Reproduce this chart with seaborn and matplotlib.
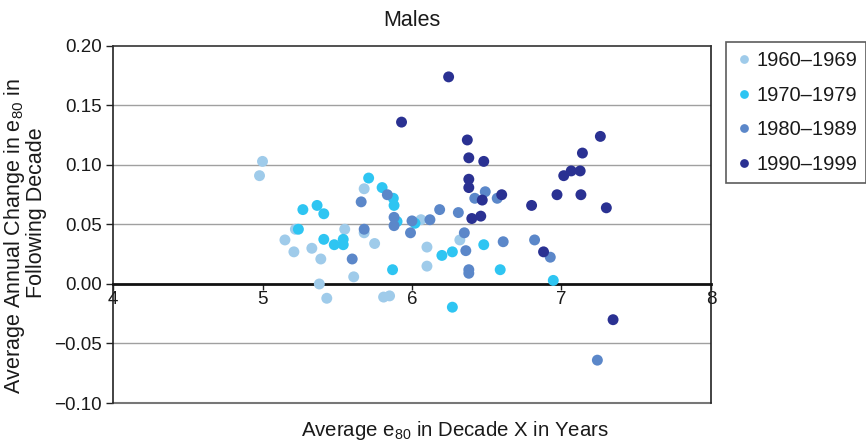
import matplotlib
matplotlib.use("Agg")
import matplotlib.pyplot as plt
import seaborn as sns
import pandas as pd
from matplotlib.ticker import FuncFormatter, MultipleLocator

decades = ["1960\u20131969", "1970\u20131979", "1980\u20131989", "1990\u20131999"]
colors = ["#9fcbea", "#2ec5f2", "#5b87c9", "#2a3192"]

x60 = [5.00, 4.98, 5.68, 5.22, 5.15, 5.21, 5.33, 5.39, 5.38, 5.43, 5.55, 5.68, 5.75, 5.61, 5.81, 5.85, 6.06, 6.10, 6.10, 6.32]
y60 = [0.103, 0.091, 0.080, 0.046, 0.037, 0.027, 0.030, 0.021, 0.000, -0.012, 0.046, 0.043, 0.034, 0.006, -0.011, -0.010, 0.054, 0.031, 0.015, 0.037]

x70 = [5.27, 5.365, 5.41, 5.24, 5.41, 5.48, 5.54, 5.54, 5.71, 5.80, 5.875, 5.88, 5.90, 5.87, 6.02, 6.20, 6.27, 6.48, 6.59, 6.945, 6.27]
y70 = [0.0625, 0.066, 0.059, 0.046, 0.0375, 0.033, 0.033, 0.0375, 0.089, 0.081, 0.072, 0.066, 0.0525, 0.012, 0.051, 0.024, 0.027, 0.033, 0.012, 0.003, -0.0195]

x80 = [5.66, 5.68, 5.60, 5.835, 5.88, 5.88, 6.00, 5.99, 6.12, 6.185, 6.31, 6.35, 6.36, 6.38, 6.38, 6.42, 6.49, 6.57, 6.61, 6.82, 6.925, 7.24]
y80 = [0.069, 0.046, 0.021, 0.075, 0.056, 0.049, 0.053, 0.043, 0.054, 0.0625, 0.060, 0.043, 0.028, 0.012, 0.009, 0.072, 0.0775, 0.072, 0.0355, 0.037, 0.0225, -0.064]

x90 = [5.93, 6.245, 6.37, 6.38, 6.48, 6.38, 6.38, 6.47, 6.60, 6.40, 6.46, 6.80, 6.88, 6.97, 7.015, 7.065, 7.125, 7.14, 7.13, 7.26, 7.30, 7.345]
y90 = [0.136, 0.174, 0.121, 0.106, 0.103, 0.088, 0.081, 0.0705, 0.075, 0.055, 0.057, 0.066, 0.027, 0.075, 0.091, 0.095, 0.095, 0.110, 0.075, 0.124, 0.064, -0.030]

xs = [x60, x70, x80, x90]
ys = [y60, y70, y80, y90]
rows = []
for d, xx, yy in zip(decades, xs, ys):
    for a, b in zip(xx, yy):
        rows.append({"x": a, "y": b, "decade": d})
df = pd.DataFrame(rows)

sns.set_style("white")
plt.rcParams["font.family"] = ["Liberation Sans", "DejaVu Sans"]
plt.rcParams["mathtext.fontset"] = "custom"
plt.rcParams["mathtext.rm"] = "Liberation Sans"
plt.rcParams["mathtext.it"] = "Liberation Sans"
plt.rcParams["text.color"] = "#1a1a1a"

fig = plt.figure(figsize=(8.66, 4.46), dpi=100)
ax = fig.add_axes([0.1305, 0.0964, 0.821 - 0.1305, 0.897 - 0.0964])

ax.set_xlim(4, 8)
ax.set_ylim(-0.10, 0.20)
ax.yaxis.set_major_locator(MultipleLocator(0.05))
ax.xaxis.set_major_locator(MultipleLocator(1))

for v in [-0.05, 0.05, 0.10, 0.15]:
    ax.axhline(v, color="#a0a0a0", lw=1.0, zorder=0)

sns.scatterplot(data=df, x="x", y="y", hue="decade", hue_order=decades,
                palette=colors, s=62, edgecolor="none", linewidth=0,
                ax=ax, zorder=3, legend=True)

# frame
ax.spines["bottom"].set_position(("data", 0))
ax.spines["bottom"].set_linewidth(2.0)
ax.spines["bottom"].set_color("#111111")
ax.spines["left"].set_color("#222222")
ax.spines["right"].set_color("#222222")
ax.spines["top"].set_color("#333333")
for s in ["left", "right", "top"]:
    ax.spines[s].set_linewidth(1.2)
ax.axhline(-0.10, color="#777777", lw=1.5, clip_on=False, zorder=1)

def yfmt(v, pos):
    s = f"{v:.2f}"
    if s == "-0.00":
        s = "0.00"
    return s.replace("-", "\u2212")

ax.yaxis.set_major_formatter(FuncFormatter(yfmt))
ax.tick_params(axis="y", direction="out", length=5, width=1, color="#222222",
               labelsize=13.5, pad=3, left=True, labelcolor="#1a1a1a")
ax.tick_params(axis="x", direction="out", length=4, width=1, color="#222222",
               labelsize=13.5, pad=1, bottom=True, labelcolor="#1a1a1a")

ax.set_xlabel("")
ax.set_ylabel("")
fig.text(455 / 866, 1 - 430 / 446, "Average e$_{80}$ in Decade X in Years",
         ha="center", va="center", fontsize=14.7)
fig.text(15 / 866, 1 - 236 / 446, "Average Annual Change in e$_{80}$ in", rotation=90,
         ha="center", va="center", fontsize=15.5)
fig.text(37 / 866, 1 - 213 / 446, "Following Decade", rotation=90,
         ha="center", va="center", fontsize=15.5)
ax.set_title("Males", fontsize=15.5, pad=14)

leg = ax.legend(loc="upper left", bbox_to_anchor=(726 / 866, 1 - 42 / 446),
                bbox_transform=fig.transFigure, frameon=True,
                fancybox=False, edgecolor="#333333", fontsize=14.5,
                handletextpad=0.15, borderpad=0.45, labelspacing=0.78,
                markerscale=0.8, handlelength=0.9, borderaxespad=0.0)
leg.get_frame().set_linewidth(1.2)

fig.savefig("out.png", dpi=100)
